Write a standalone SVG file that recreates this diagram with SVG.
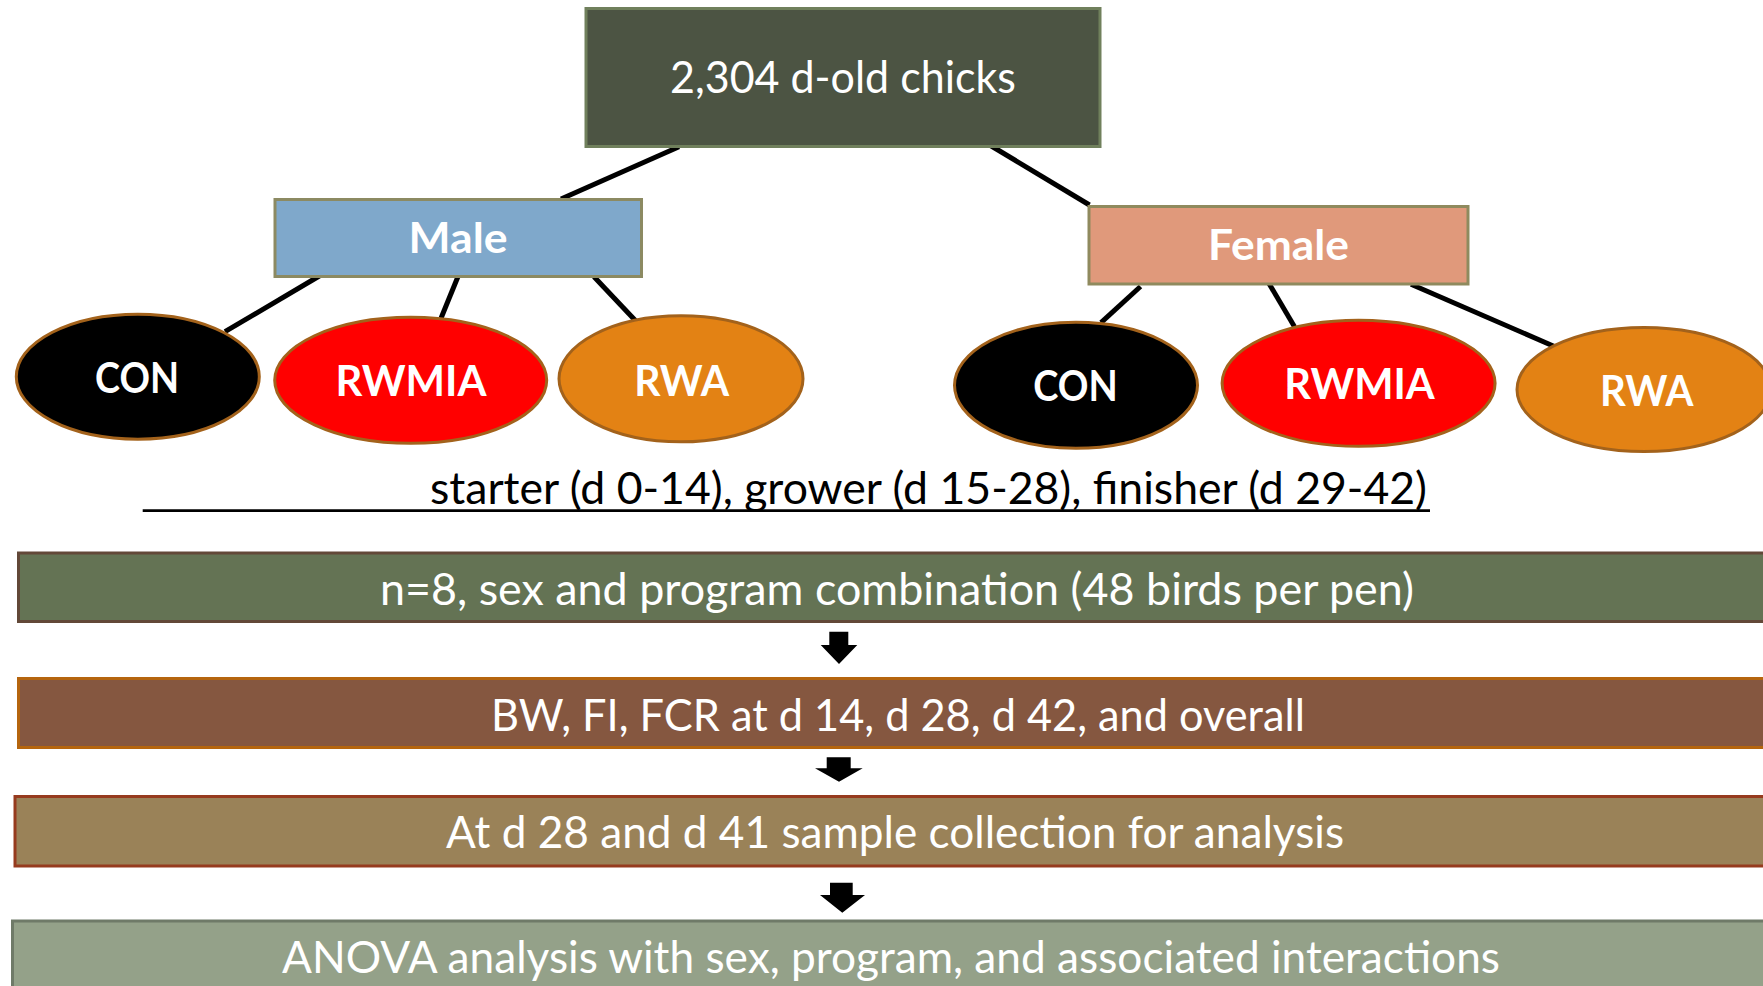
<svg xmlns="http://www.w3.org/2000/svg" width="1763" height="986" viewBox="0 0 1763 986">
<defs>
<style>
text{font-family:Lato,"Open Sans","Liberation Sans",sans-serif;fill:#fff;text-anchor:middle}
.b{font-weight:bold;font-size:42px}
.r{font-size:43.5px}
.con{stroke:#000;stroke-width:5;stroke-linecap:butt;fill:none}
.ell{stroke:#A3621B;stroke-width:3}
.arr{fill:#000}
</style>
</defs>
<rect width="1763" height="986" fill="#fff"/>
<g id="connectors">
<line class="con" x1="679" y1="146.7" x2="561" y2="199"/>
<line class="con" x1="988" y1="144" x2="1089.5" y2="205"/>
<line class="con" x1="323.5" y1="273.5" x2="225" y2="331.7"/>
<line class="con" x1="458" y1="276.5" x2="441" y2="318.3"/>
<line class="con" x1="594" y1="276.7" x2="636.5" y2="321.7"/>
<line class="con" x1="1140.5" y1="286.5" x2="1101" y2="322.7"/>
<line class="con" x1="1269" y1="283.5" x2="1294.5" y2="326.7"/>
<line class="con" x1="1411" y1="284.3" x2="1555" y2="346.7"/>
<polygon class="arr" points="829.3,631.7 848.3,631.7 848.3,645 857.3,645 839,664 820.7,645 829.3,645"/>
<polygon class="arr" points="826.7,757.3 850.7,757.3 850.7,768.3 862.7,768.3 839,781.7 815,768.3 826.7,768.3"/>
<polygon class="arr" points="830,882.7 852.7,882.7 852.7,895 865,895 842.3,912.7 820,895 830,895"/>
</g>
<g id="chicks">
<rect x="586" y="8.5" width="514" height="138" fill="#4C5443" stroke="#70805C" stroke-width="3"/>
<text class="r" x="843" y="93.3" textLength="346" lengthAdjust="spacingAndGlyphs">2,304 d-old chicks</text>
</g>
<g id="male">
<rect x="275" y="199.5" width="366.5" height="77" fill="#7FA8CB" stroke="#8C8A62" stroke-width="3"/>
<text class="b" x="458" y="253.3" textLength="99" lengthAdjust="spacingAndGlyphs">Male</text>
</g>
<g id="female">
<rect x="1089" y="206.5" width="379" height="77.5" fill="#E0997B" stroke="#8F8A5E" stroke-width="3"/>
<text class="b" x="1278.5" y="260" textLength="141" lengthAdjust="spacingAndGlyphs">Female</text>
</g>
<g id="male-con">
<ellipse class="ell" cx="137.8" cy="376.7" rx="121.5" ry="62.5" fill="#000"/>
<text class="b" x="137" y="392.7" textLength="84" lengthAdjust="spacingAndGlyphs">CON</text>
</g>
<g id="male-rwmia">
<ellipse class="ell" cx="410.7" cy="380.3" rx="136" ry="63" fill="#FF0000"/>
<text class="b" x="411" y="396" textLength="151" lengthAdjust="spacingAndGlyphs">RWMIA</text>
</g>
<g id="male-rwa">
<ellipse class="ell" cx="681" cy="378.8" rx="122" ry="63" fill="#E38214"/>
<text class="b" x="681.7" y="396" textLength="95" lengthAdjust="spacingAndGlyphs">RWA</text>
</g>
<g id="female-con">
<ellipse class="ell" cx="1076" cy="385.3" rx="121.5" ry="63" fill="#000"/>
<text class="b" x="1075.5" y="401" textLength="84.5" lengthAdjust="spacingAndGlyphs">CON</text>
</g>
<g id="female-rwmia">
<ellipse class="ell" cx="1358.6" cy="383.3" rx="136.5" ry="63" fill="#FF0000"/>
<text class="b" x="1359.5" y="399.3" textLength="150.5" lengthAdjust="spacingAndGlyphs">RWMIA</text>
</g>
<g id="female-rwa">
<ellipse class="ell" cx="1644" cy="389.5" rx="127" ry="62" fill="#E38214"/>
<text class="b" x="1646.7" y="405.5" textLength="93.5" lengthAdjust="spacingAndGlyphs">RWA</text>
</g>
<g id="diet-phases">
<line x1="142.7" y1="510.7" x2="1430" y2="510.7" stroke="#000" stroke-width="2.7"/>
<text class="r" x="928.5" y="504" style="fill:#000" textLength="997" lengthAdjust="spacingAndGlyphs">starter (d 0-14), grower (d 15-28), finisher (d 29-42)</text>
</g>
<g id="pens">
<rect x="18.5" y="553" width="1790" height="68.5" fill="#647354" stroke="#624838" stroke-width="3"/>
<text class="r" x="897" y="605" textLength="1034" lengthAdjust="spacingAndGlyphs">n=8, sex and program combination (48 birds per pen)</text>
</g>
<g id="performance">
<rect x="18.5" y="678.5" width="1790" height="69" fill="#855740" stroke="#B5650E" stroke-width="3"/>
<text class="r" x="898" y="730.5" textLength="814" lengthAdjust="spacingAndGlyphs">BW, FI, FCR at d 14, d 28, d 42, and overall</text>
</g>
<g id="sampling">
<rect x="15" y="796.5" width="1790" height="69.5" fill="#9A8258" stroke="#963B1E" stroke-width="3"/>
<text class="r" x="895" y="848.3" textLength="898" lengthAdjust="spacingAndGlyphs">At d 28 and d 41 sample collection for analysis</text>
</g>
<g id="anova">
<rect x="12.5" y="921" width="1790" height="80" fill="#94A189" stroke="#6F7A68" stroke-width="3"/>
<text class="r" x="891" y="972.7" textLength="1218" lengthAdjust="spacingAndGlyphs">ANOVA analysis with sex, program, and associated interactions</text>
</g>
</svg>
